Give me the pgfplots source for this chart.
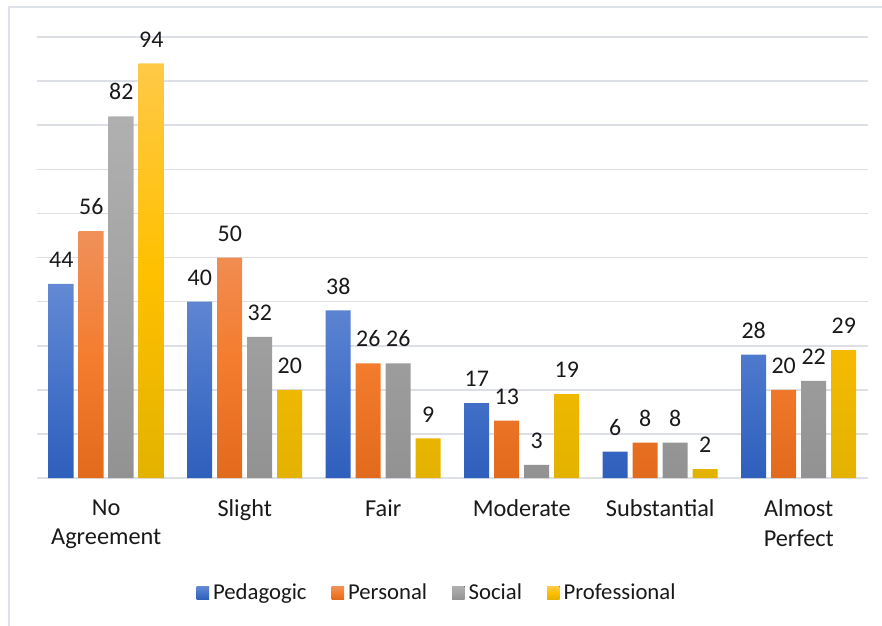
\documentclass[border=0pt]{standalone}
\usepackage{pgfplots}
\pgfplotsset{compat=1.18}
\usepackage{fontspec}
\setmainfont{Carlito}
\definecolor{gridc}{HTML}{DCE0E6}
\definecolor{framec}{HTML}{DDE2E9}
\definecolor{bT}{HTML}{6389D3}\definecolor{bM}{HTML}{4774CA}\definecolor{bB}{HTML}{2E5FBC}
\definecolor{oT}{HTML}{F0905A}\definecolor{oM}{HTML}{F47D30}\definecolor{oB}{HTML}{E26A1C}
\definecolor{gT}{HTML}{B0B0B0}\definecolor{gM}{HTML}{A3A3A3}\definecolor{gB}{HTML}{929292}
\definecolor{yT}{HTML}{FFC947}\definecolor{yM}{HTML}{FFC000}\definecolor{yB}{HTML}{E3B200}
\begin{document}
\begin{tikzpicture}
\useasboundingbox (0,0) rectangle (441bp,-313bp);
\draw[framec, line width=1bp] (4.5bp,-313bp) -- (4.5bp,-3.5bp) -- (441bp,-3.5bp);
\begin{axis}[
  at={(18.5bp,-239bp)}, anchor=south west,
  scale only axis, width=415.5bp, height=220.5bp,
  ymin=0, ymax=100, ytick={0,10,...,100}, yticklabels={},
  ymajorgrids, grid style={gridc, line width=0.8bp},
  major tick length=0pt,
  xmin=-0.5, xmax=5.5, xtick={0,...,5},
  xticklabels={No\\Agreement, Slight, Fair, Moderate, Substantial, Almost\\Perfect},
  xticklabel style={align=center, font=\fontsize{12.2}{14.6}\selectfont, text=black!90, yshift=-7.5bp},
  axis line style={draw=none},
  ybar=2.5bp, bar width=12.5bp,
  nodes near coords,
  every node near coord/.append style={font=\fontsize{12}{14}\selectfont, text=black!90, yshift=4.6bp},
  /pgf/number format/assume math mode=true,
  legend style={at={(0.4826,-0.22)}, anchor=north, legend columns=4, draw=none,
    font=\fontsize{11.4}{14}\selectfont, text=black!90,
    /tikz/every even column/.append style={column sep=10.5bp}},
  legend image code/.code={\fill[#1] (0bp,-3.3bp) rectangle (6.3bp,3.3bp);},
]
\addplot[draw=none, top color=bT, bottom color=bB, middle color=bM] coordinates {(0,44) (1,40) (2,38) (3,17) (4,6) (5,28)};
\addplot[draw=none, top color=oT, bottom color=oB, middle color=oM] coordinates {(0,56) (1,50) (2,26) (3,13) (4,8) (5,20)};
\addplot[draw=none, top color=gT, bottom color=gB, middle color=gM] coordinates {(0,82) (1,32) (2,26) (3,3) (4,8) (5,22)};
\addplot[draw=none, top color=yT, bottom color=yB, middle color=yM] coordinates {(0,94) (1,20) (2,9) (3,19) (4,2) (5,29)};
\legend{Pedagogic, Personal, Social, Professional}
\end{axis}
\end{tikzpicture}
\end{document}
